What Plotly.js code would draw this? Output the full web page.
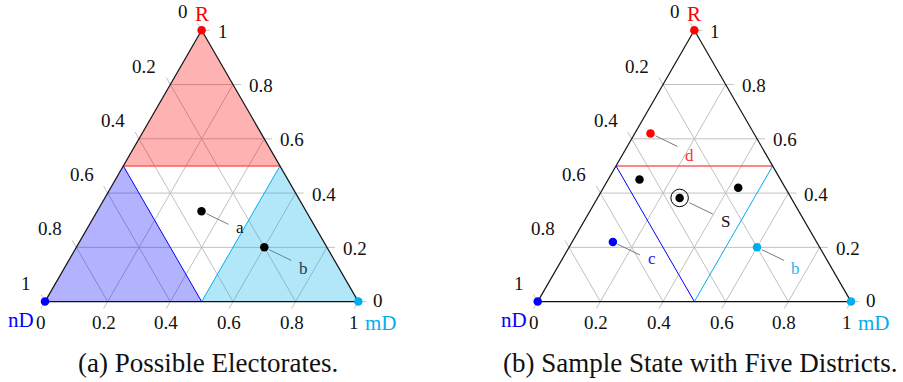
<!DOCTYPE html>
<html>
<head>
<meta charset="utf-8">
<script src="https://cdn.plot.ly/plotly-3.0.1.min.js"></script>
<style>
  html, body { margin: 0; padding: 0; background: #fff; }
  #chart { width: 903px; height: 382px; }
</style>
</head>
<body>
<div id="chart"></div>
<script>
// Every position is a ternary share triple [R, nD, mD] that sums to 1.
const tickValues = [0, 0.2, 0.4, 0.6, 0.8, 1];
const tickLabels = ['0', '0.2', '0.4', '0.6', '0.8', '1'];
const gridValues = [0.2, 0.4, 0.6, 0.8];
const vertexNames = ['R', 'nD', 'mD'];
const majority = 0.5;

// (a) two example electorates
const electorateNames = ['a', 'b'];
const electorateR  = [0.333, 0.20];
const electorateND = [0.334, 0.20];
const electorateMD = [0.333, 0.60];

// (b) five districts of one state
const districtNames = ['d', '', '', 'c', 'b'];
const districtR  = [0.62, 0.45, 0.42, 0.22, 0.20];
const districtND = [0.33, 0.45, 0.15, 0.65, 0.20];
const districtMD = [0.05, 0.10, 0.43, 0.13, 0.60];

// state-wide share S
const stateName = 'S';
const stateR  = [0.382];
const stateND = [0.356];
const stateMD = [0.262];

const captions = ['(a) Possible Electorates.', '(b) Sample State with Five Districts.'];

// ---- styling -------------------------------------------------------------
const FONT = 'Liberation Serif, Times New Roman, serif';
const INK = '#111111';
const RED = '#ff0000', BLUE = '#0000ff', CYAN = '#00aeef';
const GRID = '#c0c0c0';
const LEADER = '#7a7a7a';
const electorateColors = ['#000000', '#000000'];
const electorateLabelColors = [INK, '#12404f'];
const districtColors = [RED, '#000000', '#000000', BLUE, CYAN];
const districtLabelColors = ['#ff3030', INK, INK, '#2020ff', '#29b6ee'];
// label centre offsets from their dot, in pixels (right, down)
const electorateLabelShift = [[38.3, 16.7], [39.6, 20.7]];
const districtLabelShift = [[39.3, 21.7], null, null, [38.8, 16.2], [38.5, 20.8]];
const stateLabelShift = [46, 23.5];

// page geometry (pixels)
const W = 903, HGT = 382;
const SIDE_PX = 313.3;          // triangle side length
const BASE_PX = 301.6;          // y of the bottom edge
const TICK_PX = 8;
const panels = [
  { x: 'x',  y: 'y',  origin: 45.0,  domain: [0, 0.5], captionX: 207.5 },
  { x: 'x2', y: 'y2', origin: 537.7, domain: [0.5, 1], captionX: 700.3 }
];
const CAPTION_Y = 363;

const ROOT3_2 = Math.sqrt(3) / 2;
const toXY = (r, nd, md) => {
  const s = r + nd + md;
  return [(md + r / 2) / s, (r * ROOT3_2) / s];
};
const u = p => p / SIDE_PX;

function segTrace(pn, segs, color, width) {
  const x = [], y = [];
  segs.forEach(([p, q]) => { x.push(p[0], q[0], null); y.push(p[1], q[1], null); });
  return { type: 'scatter', mode: 'lines', x, y, xaxis: pn.x, yaxis: pn.y,
           line: { color, width }, hoverinfo: 'skip' };
}
function polyTrace(pn, pts, fillcolor) {
  return { type: 'scatter', mode: 'lines', fill: 'toself', fillcolor,
           x: pts.map(p => p[0]), y: pts.map(p => p[1]), xaxis: pn.x, yaxis: pn.y,
           line: { width: 0, color: 'rgba(0,0,0,0)' }, hoverinfo: 'skip' };
}
function dotTrace(pn, pts, colors, size, symbol, lineWidth) {
  return { type: 'scatter', mode: 'markers', x: pts.map(p => p[0]), y: pts.map(p => p[1]),
           xaxis: pn.x, yaxis: pn.y, hoverinfo: 'skip',
           marker: { color: colors, size, symbol: symbol || 'circle',
                     line: { width: lineWidth || 0, color: colors } } };
}
function note(pn, p, text, o) {
  return Object.assign({ xref: pn.x, yref: pn.y, x: p[0], y: p[1], text, showarrow: false,
                         font: { family: FONT, size: 19, color: INK } }, o);
}

const traces = [];
const annotations = [];
const layout = {
  width: W, height: HGT, margin: { l: 0, r: 0, t: 0, b: 0, pad: 0 },
  paper_bgcolor: '#fff', plot_bgcolor: '#fff', showlegend: false, hovermode: false
};

// leader: short grey stroke running from a dot toward its label
const LEAD_DIR = [0.9, -0.436];
function leader(p, r0, r1) {
  return [[p[0] + LEAD_DIR[0] * u(r0), p[1] + LEAD_DIR[1] * u(r0)],
          [p[0] + LEAD_DIR[0] * u(r1), p[1] + LEAD_DIR[1] * u(r1)]];
}

panels.forEach((pn, k) => {
  const ax = pn.x === 'x' ? 'xaxis' : 'xaxis2';
  const ay = pn.y === 'y' ? 'yaxis' : 'yaxis2';
  const left = pn.domain[0] * W, right = pn.domain[1] * W;
  layout[ax] = { domain: pn.domain, range: [u(left - pn.origin), u(right - pn.origin)],
                 visible: false, fixedrange: true };
  layout[ay] = { domain: [0, 1], range: [-u(HGT - BASE_PX), u(BASE_PX)],
                 visible: false, fixedrange: true };
  if (k === 1) layout[ay].anchor = 'x2';
  if (k === 1) layout[ax].anchor = 'y2';

  // grid: constant R, constant nD, constant mD
  const grid = [];
  gridValues.forEach(t => {
    grid.push([toXY(t, 1 - t, 0), toXY(t, 0, 1 - t)]);
    grid.push([toXY(1 - t, t, 0), toXY(0, t, 1 - t)]);
    grid.push([toXY(1 - t, 0, t), toXY(0, 1 - t, t)]);
  });
  traces.push(segTrace(pn, grid, GRID, 1));

  // ticks and their labels on all three sides
  const L = u(TICK_PX);
  const ticks = [];
  tickValues.forEach((t, i) => {
    const eR = toXY(t, 0, 1 - t), tR = [eR[0] + L, eR[1]];
    const eN = toXY(1 - t, t, 0), tN = [eN[0] - 0.5 * L, eN[1] + ROOT3_2 * L];
    const eM = toXY(0, 1 - t, t), tM = [eM[0] - 0.5 * L, eM[1] - ROOT3_2 * L];
    ticks.push([eR, tR], [eN, tN], [eM, tM]);
    // the R-axis "0" shares its corner with the mD name below it
    const low = (t === 0);
    annotations.push(note(pn, tR, tickLabels[i], { xanchor: 'left', yanchor: 'middle', xshift: 6,
      yshift: low ? 1 : -1, borderpad: low ? 0 : 1 }));
    annotations.push(note(pn, tN, tickLabels[i], { xanchor: 'right', yanchor: 'bottom', xshift: -8, yshift: -1 }));
    annotations.push(note(pn, tM, tickLabels[i], { xanchor: 'center', yanchor: 'top', xshift: 0, yshift: -1 }));
  });
  traces.push(segTrace(pn, ticks, GRID, 1));

  if (k === 0) {
    // leaders sit under the translucent regions
    const pts = electorateR.map((r, i) => toXY(r, electorateND[i], electorateMD[i]));
    traces.push(segTrace(pn, pts.map(p => leader(p, 5.5, 30)), LEADER, 1));
    pts.forEach((p, i) => {
      const s = electorateLabelShift[i];
      annotations.push(note(pn, p, electorateNames[i], { xanchor: 'center', yanchor: 'middle',
        xshift: s[0], yshift: -s[1], font: { family: FONT, size: 17, color: electorateLabelColors[i] } }));
    });
    // regions where one group holds a majority
    const m = majority;
    traces.push(polyTrace(pn, [toXY(1, 0, 0), toXY(m, 1 - m, 0), toXY(m, 0, 1 - m)], 'rgba(255,0,0,0.3)'));
    traces.push(polyTrace(pn, [toXY(0, 1, 0), toXY(1 - m, m, 0), toXY(0, m, 1 - m)], 'rgba(0,0,255,0.3)'));
    traces.push(polyTrace(pn, [toXY(0, 0, 1), toXY(1 - m, 0, m), toXY(0, 1 - m, m)], 'rgba(0,174,239,0.3)'));
  }

  // majority boundaries
  const m = majority;
  traces.push(segTrace(pn, [[toXY(m, 1 - m, 0), toXY(m, 0, 1 - m)]], '#ff5c5c', 1.4));
  traces.push(segTrace(pn, [[toXY(1 - m, m, 0), toXY(0, m, 1 - m)]], BLUE, 1));
  traces.push(segTrace(pn, [[toXY(1 - m, 0, m), toXY(0, 1 - m, m)]], CYAN, 1));

  if (k === 1) {
    const pts = districtR.map((r, i) => toXY(r, districtND[i], districtMD[i]));
    const sP = toXY(stateR[0], stateND[0], stateMD[0]);
    const leads = [];
    pts.forEach((p, i) => { if (districtNames[i]) leads.push(leader(p, 5.5, 30)); });
    leads.push(leader(sP, 11, 37));
    traces.push(segTrace(pn, leads, LEADER, 1));
    traces.push(dotTrace(pn, pts, districtColors, 8.5));
    traces.push(dotTrace(pn, [sP], ['#000000'], 8.5));
    traces.push(dotTrace(pn, [sP], ['#000000'], 17.5, 'circle-open', 1));
    pts.forEach((p, i) => {
      if (!districtNames[i]) return;
      const s = districtLabelShift[i];
      annotations.push(note(pn, p, districtNames[i], { xanchor: 'center', yanchor: 'middle',
        xshift: s[0], yshift: -s[1], font: { family: FONT, size: 17, color: districtLabelColors[i] } }));
    });
    annotations.push(note(pn, sP, stateName, { xanchor: 'center', yanchor: 'middle',
      xshift: stateLabelShift[0], yshift: -stateLabelShift[1], font: { family: FONT, size: 17, color: INK } }));
  }

  // triangle outline
  const V = [toXY(0, 1, 0), toXY(0, 0, 1), toXY(1, 0, 0)];
  traces.push(segTrace(pn, [[V[0], V[1]], [V[1], V[2]], [V[2], V[0]]], '#111111', 1.2));

  if (k === 0) {
    const pts = electorateR.map((r, i) => toXY(r, electorateND[i], electorateMD[i]));
    traces.push(dotTrace(pn, pts, electorateColors, 8.5));
  }

  // vertices
  const vR = V[2], vN = V[0], vM = V[1];
  traces.push(dotTrace(pn, [vR, vN, vM], [RED, BLUE, CYAN], 8.5));
  annotations.push(note(pn, vR, vertexNames[0], { xanchor: 'center', yanchor: 'bottom', yshift: 2,
    font: { family: FONT, size: 21, color: RED } }));
  annotations.push(note(pn, vN, vertexNames[1], { xanchor: 'right', yanchor: 'top', xshift: -10, yshift: -5,
    borderpad: 0, font: { family: FONT, size: 21, color: BLUE } }));
  annotations.push(note(pn, vM, vertexNames[2], { xanchor: 'left', yanchor: 'top', xshift: 6, yshift: -8,
    borderpad: 0, font: { family: FONT, size: 21, color: CYAN } }));

  annotations.push({ xref: 'paper', yref: 'paper', x: pn.captionX / W, y: 1 - CAPTION_Y / HGT,
    xanchor: 'center', yanchor: 'middle', showarrow: false, text: captions[k],
    font: { family: FONT, size: 27, color: INK } });
});

layout.annotations = annotations;
Plotly.newPlot('chart', traces, layout, { staticPlot: true, displayModeBar: false });
</script>
</body>
</html>
